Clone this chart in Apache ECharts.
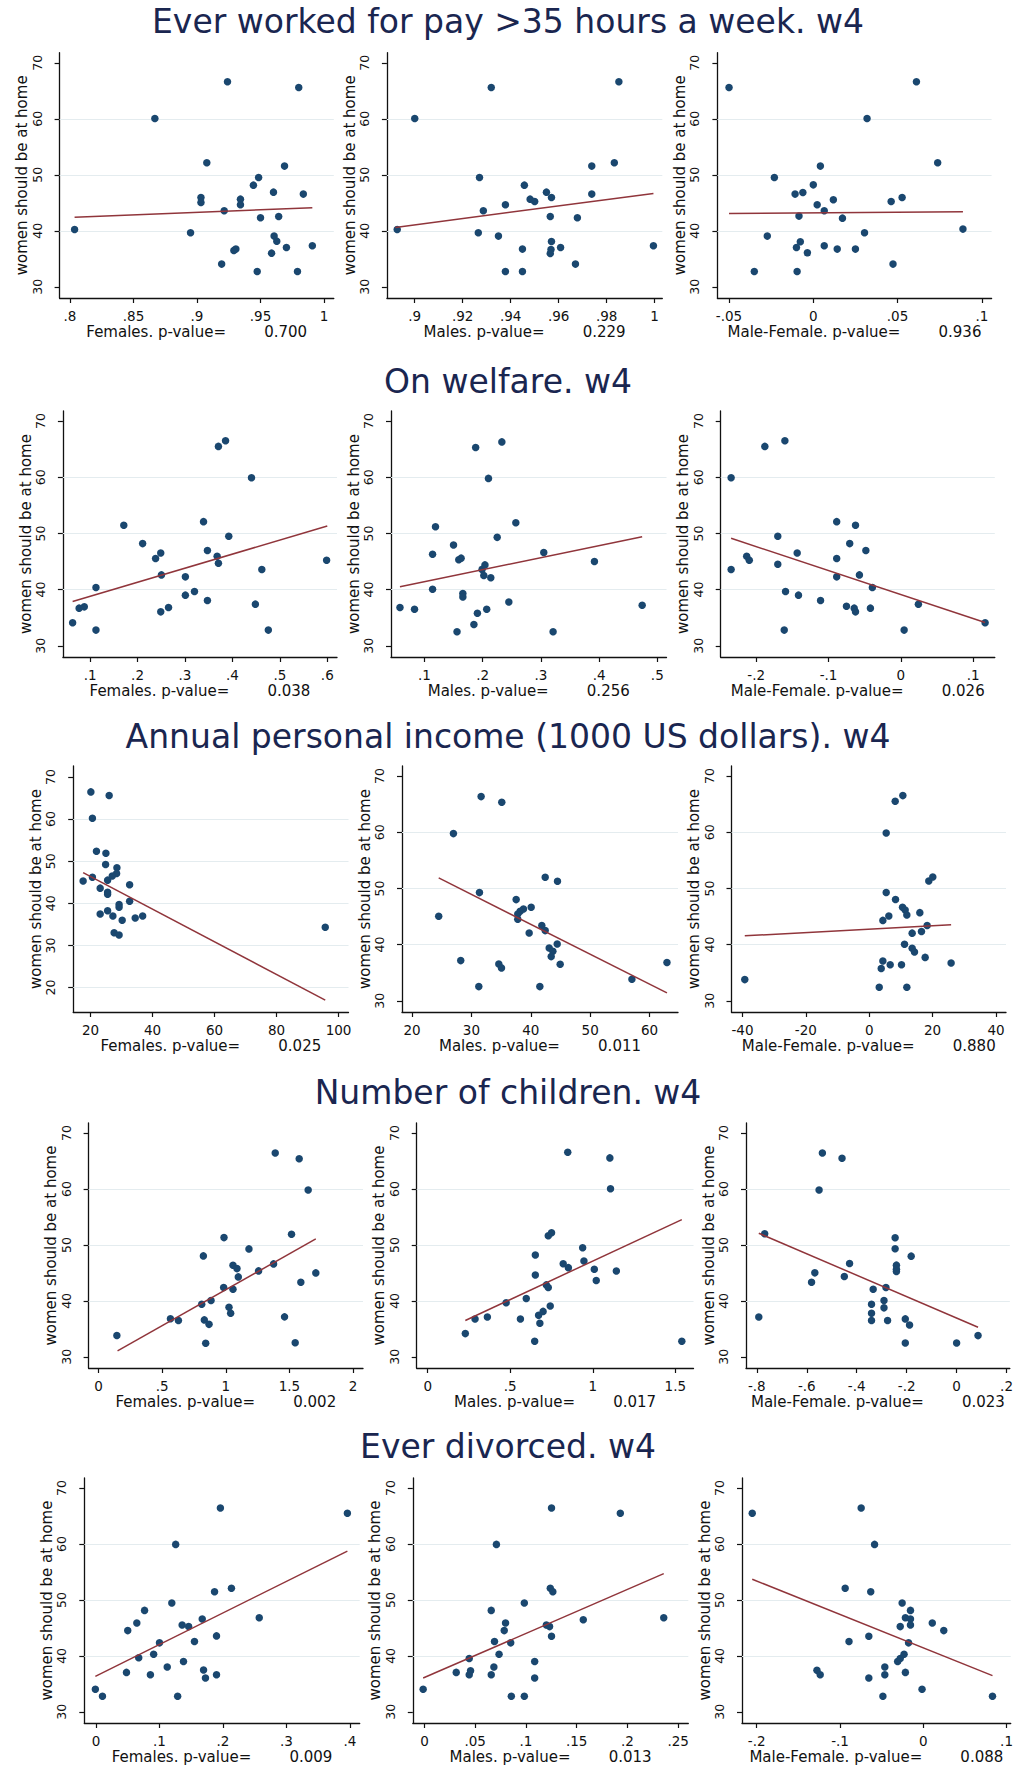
<!DOCTYPE html>
<html><head><meta charset="utf-8">
<script src="https://cdn.jsdelivr.net/npm/echarts@6/dist/echarts.min.js"></script>
<style>html,body{margin:0;padding:0;background:#fff}#c{width:1016px;height:1770px}</style>
</head><body><div id="c"></div>
<script>
// ---------- DATA ----------
const rowTitles = ['Ever worked for pay >35 hours a week. w4','On welfare. w4','Annual personal income (1000 US dollars). w4','Number of children. w4','Ever divorced. w4'];
const groupLabels = ['Females. p-value=','Males. p-value=','Male-Female. p-value='];
const pValues = [['0.700','0.229','0.936'],['0.038','0.256','0.026'],['0.025','0.011','0.880'],['0.002','0.017','0.023'],['0.009','0.013','0.088']];
const yAxisTitle = 'women should be at home';
const yTicks = [30,40,50,60,70];
const yTicksIncomeF = [20,30,40,50,60,70];

// Row 1: ever worked >35h
const work_fem = [[.8036,40.24],[.8668,60.06],[.8949,39.64],[.9031,45.95],[.9031,45.06],[.9077,52.14],[.9214,43.57],[.9194,34.05],[.924,66.6],[.9306,36.73],[.929,36.5],[.9342,45.65],[.9342,44.64],[.9444,48.15],[.9485,49.52],[.9474,32.74],[.950,42.32],[.9602,46.9],[.9607,39.05],[.9628,38.15],[.9643,42.56],[.9689,51.55],[.9704,37.02],[.9791,32.74],[.9801,65.6],[.9837,46.55],[.9908,37.32],[.9587,36.01]];
const work_fem_fit = [[.8036,42.44],[.9908,44.1]];
const work_male = [[.8927,40.24],[.9,60.06],[.927,49.52],[.9265,39.64],[.9286,43.57],[.9319,65.6],[.9349,39.05],[.9378,44.64],[.9378,32.74],[.9449,32.74],[.9449,36.73],[.9457,48.15],[.9481,45.65],[.95,45.24],[.9549,46.9],[.9565,42.56],[.957,45.95],[.957,38.1],[.9568,36.67],[.9565,35.95],[.9608,37.02],[.967,34.05],[.9678,42.32],[.9738,51.55],[.9738,46.55],[.9832,52.14],[.9851,66.6],[.9995,37.32]];
const work_male_fit = [[.8919,40.6],[.9995,46.67]];
const work_diff = [[-.05,65.6],[-.035,32.74],[-.0273,39.05],[-.0231,49.52],[-.0108,46.55],[-.01,37.02],[-.0096,32.74],[-.0085,42.62],[-.0077,38.04],[-.0062,46.85],[-.0035,36.07],[0,48.2],[.0023,44.64],[.0042,51.55],[.0065,43.57],[.0065,37.32],[.0119,45.54],[.0142,36.73],[.0173,42.26],[.025,36.73],[.0304,39.64],[.0319,60.06],[.0462,45.24],[.0473,34.05],[.0527,45.95],[.0612,66.6],[.0738,52.14],[.0888,40.3]];
const work_diff_fit = [[-.05,43.1],[.0888,43.4]];

// Row 2: on welfare
const welf_fem = [[.0631,34.1],[.0768,36.7],[.0877,36.93],[.1123,40.37],[.1123,32.79],[.171,51.45],[.2107,48.19],[.238,45.53],[.2489,46.53],[.2489,36.04],[.2503,42.62],[.2653,36.81],[.3008,42.27],[.3008,39.01],[.32,39.66],[.3391,52.1],[.3473,46.95],[.3473,38.06],[.3678,45.94],[.3705,44.7],[.3705,65.5],[.3855,66.5],[.3923,49.5],[.4402,59.93],[.462,43.57],[.4484,37.41],[.4757,32.79],[.5986,45.23]];
const welf_fem_fit = [[.0631,37.88],[.6,51.33]];
const welf_male = [[.058,36.8],[.083,36.5],[.114,40.06],[.114,46.3],[.119,51.2],[.150,47.95],[.156,32.5],[.159,45.3],[.163,45.6],[.166,39.3],[.166,38.7],[.185,33.8],[.188,65.3],[.191,35.8],[.199,43.6],[.202,42.5],[.204,44.4],[.207,36.5],[.210,59.8],[.214,42.1],[.225,49.3],[.233,66.3],[.245,37.8],[.257,51.9],[.305,46.6],[.321,32.5],[.392,45.0],[.474,37.2]];
const welf_male_fit = [[.058,40.5],[.474,49.4]];
const welf_diff = [[-.2346,43.57],[-.2346,59.93],[-.2131,45.94],[-.2095,45.23],[-.188,65.5],[-.1701,44.52],[-.1701,49.5],[-.1603,66.5],[-.1594,39.66],[-.1612,32.79],[-.1433,46.53],[-.1415,39.01],[-.111,38.06],[-.0887,52.1],[-.0887,45.53],[-.0887,42.27],[-.0752,37.05],[-.0707,48.19],[-.0627,51.45],[-.0645,36.7],[-.0627,36.04],[-.0573,42.62],[-.0484,46.95],[-.0421,36.7],[-.0394,40.37],[.0045,32.79],[.0242,37.41],[.1164,34.1]];
const welf_diff_fit = [[-.2346,49.14],[.1164,34.15]];

// Row 3: annual personal income
const inc_fem = [[20.1,66.45],[26.0,65.6],[20.6,60.2],[21.9,52.35],[24.95,51.9],[24.85,49.2],[28.5,48.45],[28.4,47.1],[27.0,46.5],[20.6,46.2],[25.5,45.5],[17.6,45.3],[32.6,44.4],[23.1,43.6],[25.5,42.6],[25.5,42.15],[32.6,40.5],[29.2,39.7],[29.2,39.05],[23.1,37.45],[25.5,38.25],[27.2,37.0],[30.2,36.0],[34.4,36.5],[36.8,37.0],[27.6,33.0],[29.2,32.5],[95.7,34.3]];
const inc_fem_fit = [[17.6,47.3],[95.7,17.0]];
const inc_male = [[31.63,66.35],[35.11,65.34],[26.97,59.76],[42.42,51.99],[44.49,51.28],[31.35,49.26],[37.53,48.01],[40.06,46.65],[38.76,46.35],[38.2,45.93],[37.8,45.46],[37.8,44.51],[24.49,45.04],[41.85,43.38],[42.42,42.49],[39.72,42.08],[44.44,40.12],[43.09,39.41],[43.71,38.81],[43.43,37.86],[44.94,36.5],[28.2,37.15],[34.61,36.56],[35.06,35.85],[31.24,32.52],[41.52,32.52],[57.02,33.83],[62.92,36.8]];
const inc_male_fit = [[24.49,51.87],[62.92,31.4]];
const inc_diff = [[-39.27,33.77],[8.19,65.51],[10.6,66.53],[5.35,59.88],[18.79,51.32],[20.05,52.04],[5.35,49.28],[8.29,48.02],[10.5,46.65],[11.34,46.17],[11.86,45.27],[15.96,45.69],[6.18,45.09],[4.3,44.31],[18.27,43.41],[13.54,42.04],[16.48,42.34],[11.13,40.06],[13.54,39.34],[14.28,38.68],[17.64,37.72],[4.3,37.07],[3.78,35.75],[6.61,36.41],[10.18,36.41],[25.83,36.71],[3.15,32.4],[11.86,32.4]];
const inc_diff_fit = [[-39.27,41.56],[25.83,43.53]];

// Row 4: number of children
const kids_fem = [[.1438,33.81],[.5647,36.79],[.6275,36.49],[.8105,39.4],[.8837,40.06],[.8235,48.04],[.831,36.6],[.868,35.8],[.8418,32.44],[.9856,51.31],[.983,42.38],[1.0248,38.87],[1.0379,37.8],[1.0562,42.08],[1.0562,46.37],[1.0876,45.77],[1.098,44.29],[1.1817,49.29],[1.2575,45.36],[1.3752,46.61],[1.3882,66.43],[1.4614,37.14],[1.5163,51.9],[1.5451,32.5],[1.5765,65.42],[1.5895,43.33],[1.6471,59.82],[1.7072,45.0]];
const kids_fem_fit = [[.149,31.07],[1.707,51.07]];
const kids_male = [[.2277,34.15],[.2866,36.76],[.3613,37.11],[.4751,39.66],[.5615,36.76],[.5969,40.43],[.6479,32.79],[.6518,44.64],[.6518,48.19],[.6715,37.41],[.6793,35.99],[.6989,38.12],[.7186,42.86],[.7303,42.39],[.7421,39.07],[.7303,51.63],[.75,52.16],[.8207,46.65],[.8521,45.94],[.8482,66.56],[.9385,49.5],[.9463,47.13],[1.0091,45.64],[1.0209,43.63],[1.1034,65.56],[1.1073,60.04],[1.1426,45.35],[1.5393,32.79]];
const kids_male_fit = [[.2277,36.5],[1.5393,54.53]];
const kids_diff = [[-.7921,37.13],[-.7685,52.0],[-.5808,43.34],[-.5677,45.01],[-.5507,59.82],[-.5375,66.45],[-.4588,65.49],[-.4496,44.36],[-.4286,46.69],[-.3341,42.09],[-.3407,39.4],[-.3407,37.79],[-.3407,36.48],[-.2908,40.06],[-.2908,38.75],[-.2829,42.39],[-.2764,36.48],[-.2462,51.28],[-.2462,49.31],[-.241,46.39],[-.241,45.67],[-.241,45.25],[-.1819,48.0],[-.2055,36.78],[-.1885,35.7],[-.2055,32.48],[0,32.48],[.0858,33.79]];
const kids_diff_fit = [[-.7921,52.1],[.0858,35.28]];

// Row 5: ever divorced
const div_fem = [[-.001,34.03],[.0102,32.79],[.048,37.05],[.05,44.52],[.0643,45.88],[.0673,39.66],[.0765,48.13],[.0857,36.64],[.0908,40.3],[.1,42.33],[.1122,38.0],[.1194,49.44],[.1255,59.93],[.1286,32.79],[.1378,39.01],[.1357,45.53],[.1459,45.23],[.1551,42.56],[.1673,46.59],[.1694,37.47],[.1724,36.04],[.1867,51.45],[.1898,43.57],[.1898,36.64],[.1959,66.44],[.2133,52.1],[.2571,46.83],[.3959,65.5]];
const div_fem_fit = [[-.001,36.34],[.3959,58.74]];
const div_male = [[-.0013,34.03],[.0313,37.05],[.0441,36.64],[.0454,37.35],[.0441,39.54],[.0658,36.64],[.0684,38.0],[.0658,48.13],[.069,42.56],[.0735,40.3],[.0786,44.52],[.0799,45.88],[.085,42.33],[.0856,32.79],[.0984,32.79],[.0984,49.44],[.0709,59.93],[.1086,39.01],[.1086,36.04],[.1201,45.53],[.1233,45.23],[.124,52.1],[.1265,51.45],[.1252,43.51],[.1252,66.44],[.1565,46.47],[.193,65.5],[.2358,46.83]];
const div_male_fit = [[-.0013,36.04],[.2358,54.71]];
const div_diff = [[-.2054,65.5],[-.0746,66.44],[-.0585,59.93],[-.0938,52.1],[-.0631,51.45],[-.0892,42.56],[-.0654,43.51],[-.1277,37.41],[-.1238,36.64],[-.0654,36.04],[-.0485,32.79],[-.0462,38.0],[-.0462,36.64],[-.0308,39.01],[-.0277,39.54],[-.0231,40.3],[-.0215,37.05],[-.0254,49.44],[-.0277,45.23],[-.0215,46.83],[-.0154,48.13],[-.0154,46.59],[-.0154,45.53],[-.0177,42.33],[-.0015,34.03],[.0108,45.88],[.0246,44.52],[.0831,32.79]];
const div_diff_fit = [[-.2054,53.7],[.0831,36.46]];

// x tick values
const work_fem_ticks = [.8,.85,.9,.95,1];
const work_male_ticks = [.9,.92,.94,.96,.98,1];
const work_diff_ticks = [-.05,0,.05,.1];
const welf_fem_ticks = [.1,.2,.3,.4,.5,.6];
const welf_male_ticks = [.1,.2,.3,.4,.5];
const welf_diff_ticks = [-.2,-.1,0,.1];
const inc_fem_ticks = [20,40,60,80,100];
const inc_male_ticks = [20,30,40,50,60];
const inc_diff_ticks = [-40,-20,0,20,40];
const kids_fem_ticks = [0,.5,1,1.5,2];
const kids_male_ticks = [0,.5,1,1.5];
const kids_diff_ticks = [-.8,-.6,-.4,-.2,0,.2];
const div_fem_ticks = [0,.1,.2,.3,.4];
const div_male_ticks = [0,.05,.1,.15,.2,.25];
const div_diff_ticks = [-.2,-.1,0,.1];

// ---------- LAYOUT ----------
const rowLayout = [
  {top:52.7, h:245.3, titleY:24,  cols:[[59.6,274.2],[386.9,275.4],[717.4,274.2]]},
  {top:411,  h:246,   titleY:384, cols:[[62.9,274.1],[391,275.5],[720.7,274.1]]},
  {top:766,  h:246,   titleY:739, cols:[[73.2,275.3],[402,276],[731.5,274.5]]},
  {top:1123, h:245,   titleY:1095,cols:[[88.6,274.4],[416.7,276.8],[746,268.5]]},
  {top:1478, h:245,   titleY:1449,cols:[[84.3,275.4],[412.8,275.5],[742,272]]}
];
const xRanges = [
  [[0.7918,1.0077],[0.8884,1.0032],[-0.0569,0.1058]],
  [[0.0426,0.6205],[0.0426,0.5158],[-0.249,0.1298]],
  [[14.4,103.2],[18.31,64.78],[-43.46,43.15]],
  [[-0.0784,2.078],[-0.0668,1.61],[-0.8433,0.2131]],
  [[-0.0184,0.4153],[-0.0115,0.26],[-0.2177,0.105]]
];
const yRangeStd = [28.0,71.8];
const yRangeIncF = [14.2,72.6];

const panelData = [
  [[work_fem,work_fem_fit,work_fem_ticks],[work_male,work_male_fit,work_male_ticks],[work_diff,work_diff_fit,work_diff_ticks]],
  [[welf_fem,welf_fem_fit,welf_fem_ticks],[welf_male,welf_male_fit,welf_male_ticks],[welf_diff,welf_diff_fit,welf_diff_ticks]],
  [[inc_fem,inc_fem_fit,inc_fem_ticks],[inc_male,inc_male_fit,inc_male_ticks],[inc_diff,inc_diff_fit,inc_diff_ticks]],
  [[kids_fem,kids_fem_fit,kids_fem_ticks],[kids_male,kids_male_fit,kids_male_ticks],[kids_diff,kids_diff_fit,kids_diff_ticks]],
  [[div_fem,div_fem_fit,div_fem_ticks],[div_male,div_male_fit,div_male_ticks],[div_diff,div_diff_fit,div_diff_ticks]]
];

const FONT = '"DejaVu Sans", "Liberation Sans", sans-serif';
const NAVY = '#1a476f', MAROON = '#90353b';
function fmt(v){ let s = String(+(+v).toFixed(6)); return s.replace(/^(-?)0\./,'$1.'); }

const grids=[], xAxes=[], yAxes=[], series=[], graphics=[];
let idx = 0;
rowLayout.forEach((row, r) => {
  graphics.push({type:'text', left:'center', top: row.titleY - 19, style:{text:rowTitles[r], font:'33px '+FONT, fill:'#1a2650'}});
  row.cols.forEach((c, k) => {
    const [pts, fit, xt] = panelData[r][k];
    const isIncF = (r===2 && k===0);
    const yt = isIncF ? yTicksIncomeF : yTicks;
    const yr = isIncF ? yRangeIncF : yRangeStd;
    const gridVals = yt.filter(v => v > yr[0]+3 && v < yr[1]-3);
    grids.push({left:c[0], top:row.top, width:c[1], height:row.h, containLabel:false});
    xAxes.push({type:'value', gridIndex:idx, min:xRanges[r][k][0], max:xRanges[r][k][1],
      name: groupLabels[k] + '\u00a0'.repeat(8) + pValues[r][k], nameLocation:'middle', nameGap:26,
      nameTextStyle:{fontFamily:FONT, fontSize:15, color:'#111'},
      axisLine:{show:true, onZero:false, lineStyle:{color:'#111', width:1.3}},
      axisTick:{show:true, customValues:xt, length:5, lineStyle:{color:'#111', width:1.2}},
      axisLabel:{customValues:xt, formatter:fmt, margin:11, fontFamily:FONT, fontSize:13.5, color:'#111'},
      splitLine:{show:false}});
    yAxes.push({type:'value', gridIndex:idx, min:yr[0], max:yr[1],
      name: yAxisTitle, nameLocation:'middle', nameGap:29, nameRotate:90,
      nameTextStyle:{fontFamily:FONT, fontSize:15, color:'#111'},
      axisLine:{show:true, onZero:false, lineStyle:{color:'#111', width:1.3}},
      axisTick:{show:true, customValues:yt, length:5, lineStyle:{color:'#111', width:1.2}},
      axisLabel:{customValues:yt, rotate:90, margin:16, fontFamily:FONT, fontSize:12.5, color:'#111'},
      splitLine:{show:false}});
    series.push({type:'scatter', xAxisIndex:idx, yAxisIndex:idx, data:[], z:1, silent:true,
      markLine:{silent:true, z:1, zlevel:0, symbol:['none','none'], label:{show:false}, animation:false,
        lineStyle:{color:'#e4ecef', width:1.2, type:'solid'}, emphasis:{disabled:true},
        data: gridVals.map(v => ({yAxis:v}))}});
    series.push({type:'scatter', xAxisIndex:idx, yAxisIndex:idx, data:pts, z:3,
      symbol:'circle', symbolSize:7.5, itemStyle:{color:NAVY, opacity:1}});
    series.push({type:'line', xAxisIndex:idx, yAxisIndex:idx, data:fit, z:4, symbol:'none',
      lineStyle:{color:MAROON, width:1.5}});
    idx++;
  });
});

const chart = echarts.init(document.getElementById('c'), null, {renderer:'svg', width:1016, height:1770});
chart.setOption({animation:false, backgroundColor:'#fff', grid:grids, xAxis:xAxes, yAxis:yAxes, series:series, graphic:graphics});
</script></body></html>
